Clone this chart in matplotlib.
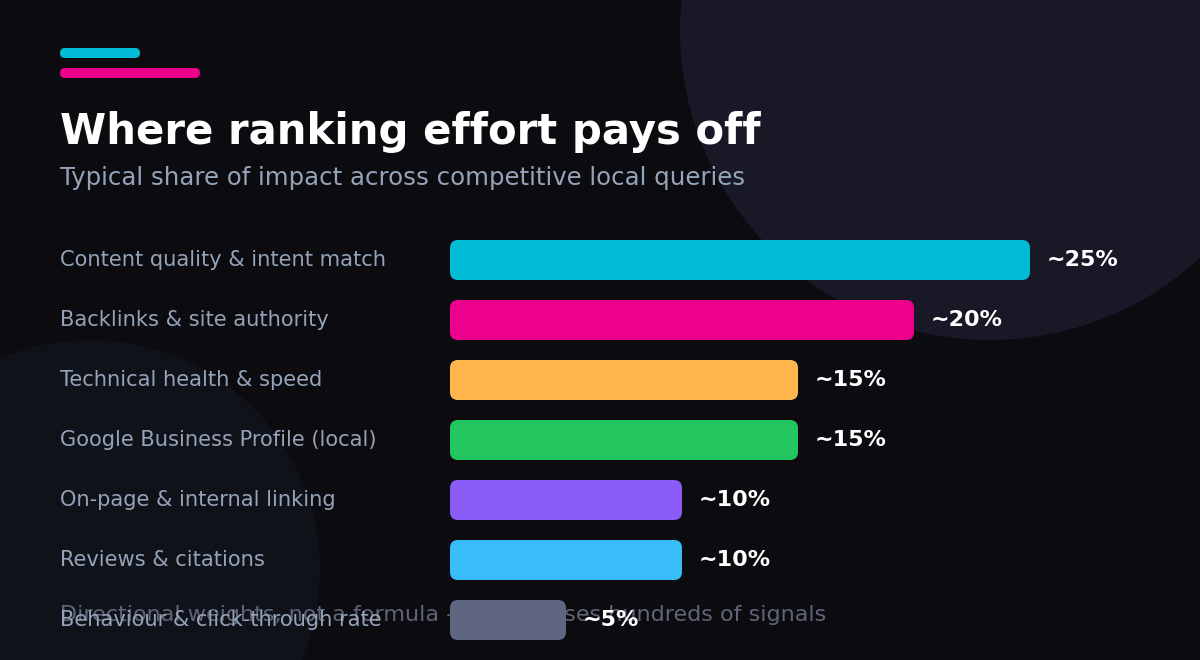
import matplotlib.pyplot as plt
from matplotlib.patches import Circle, FancyBboxPatch
from matplotlib.transforms import blended_transform_factory

plt.rcParams['font.family'] = ['DejaVu Sans']

# data
factors = ['Content quality & intent match', 'Backlinks & site authority',
           'Technical health & speed', 'Google Business Profile (local)',
           'On-page & internal linking', 'Reviews & citations',
           'Behaviour & click-through rate']
shares = [25, 20, 15, 15, 10, 10, 5]
value_labels = ['~25%', '~20%', '~15%', '~15%', '~10%', '~10%', '~5%']
colors = ['#00bcd4', '#ec008c', '#ffb74d', '#22c55e', '#8b5cf6', '#38bdf8', '#5f6780']

W, H = 1200, 660
BG = '#0b0b10'
fig = plt.figure(figsize=(12, 6.6), dpi=100, facecolor=BG)

# background layer in pixel coords
bg = fig.add_axes([0, 0, 1, 1], zorder=0)
bg.set_xlim(0, W)
bg.set_ylim(H, 0)
bg.axis('off')
bg.set_facecolor(BG)
bg.add_patch(Circle((990, 30), 310, color='#181826', lw=0))
bg.add_patch(Circle((90, 570), 230, color='#10121a', lw=0))

# accent strokes
bg.add_patch(FancyBboxPatch((60, 48), 80, 10, boxstyle='round,pad=0,rounding_size=5',
                            color='#00bcd4', lw=0))
bg.add_patch(FancyBboxPatch((60, 68), 140, 10, boxstyle='round,pad=0,rounding_size=5',
                            color='#ec008c', lw=0))

bg.text(60, 144, 'Where ranking effort pays off', color='white', fontsize=30.2,
        fontweight='bold', va='baseline')
bg.text(60, 185, 'Typical share of impact across competitive local queries',
        color='#94a3b8', fontsize=17.6, va='baseline')
bg.text(60, 621, 'Directional weights, not a formula \u2013 Google uses hundreds of signals',
        color='#5f6577', fontsize=16, va='baseline')

# bar axes: x 0..25 maps to 450..1030 px, rows 60 px apart starting at 260
x0, x1 = 450, 1030
y_top, y_bot = 230, 650
ax = fig.add_axes([x0 / W, 1 - y_bot / H, (x1 - x0) / W, (y_bot - y_top) / H], zorder=1)
ax.set_xlim(0, 25)
ax.set_ylim(len(factors) - 0.5, -0.5)
ax.axis('off')
ax.patch.set_alpha(0)

px_x = (x1 - x0) / 25
px_y = (y_bot - y_top) / len(factors)
bh = 40 / px_y
r = 8 / px_x
for i, (name, v, lab, c) in enumerate(zip(factors, shares, value_labels, colors)):
    ax.add_patch(FancyBboxPatch((0, i - bh / 2), v, bh,
                                boxstyle=f'round,pad=0,rounding_size={r}',
                                mutation_aspect=px_x / px_y, color=c, lw=0))
    ax.annotate(lab, (v, i), xytext=(12, 0), textcoords='offset points',
                color='white', fontsize=16, fontweight='bold', va='center',
                annotation_clip=False)

trans = blended_transform_factory(fig.transFigure, ax.transData)
for i, name in enumerate(factors):
    ax.text(60 / W, i, name, transform=trans, color='#94a3b8', fontsize=15.1,
            va='center', clip_on=False)

fig.savefig('out.png', dpi=100, facecolor=BG)
